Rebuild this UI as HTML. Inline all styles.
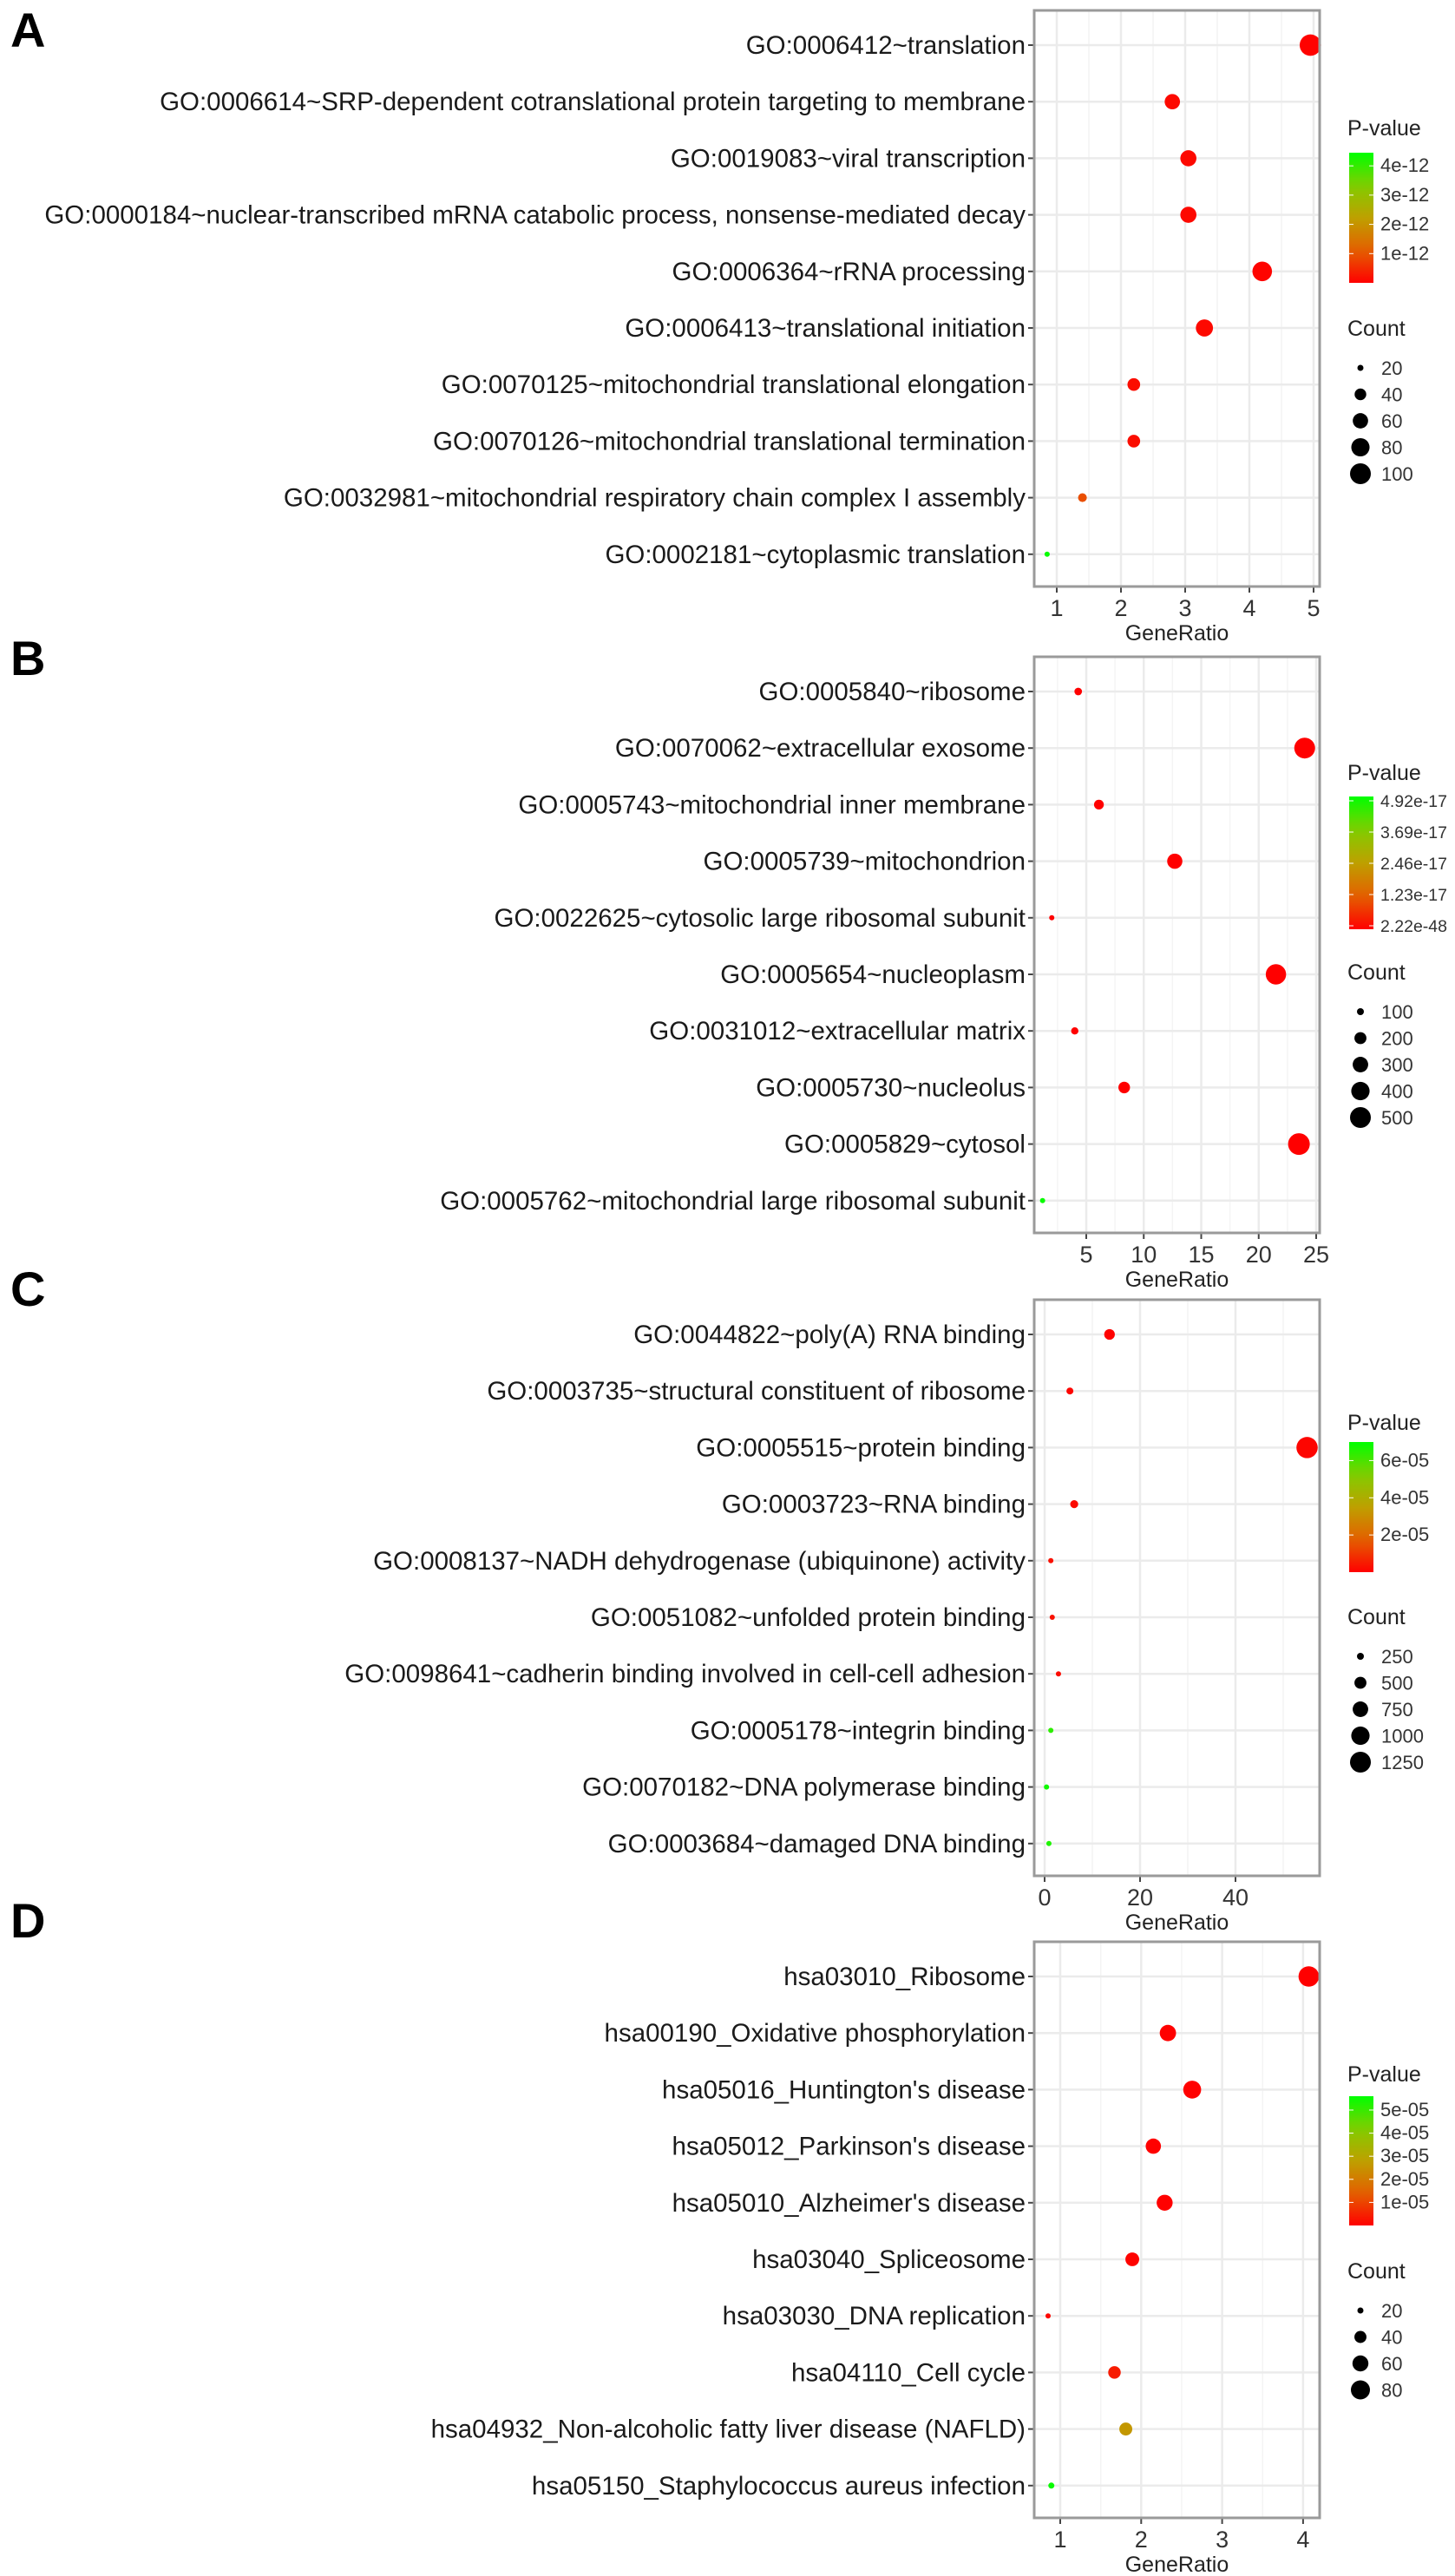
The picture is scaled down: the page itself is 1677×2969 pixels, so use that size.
<!DOCTYPE html>
<html><head><meta charset="utf-8">
<style>
html,body{margin:0;padding:0;background:#fff;}
svg{display:block;font-family:"Liberation Sans",Arial,sans-serif;}
</style></head>
<body>
<svg id="fig" width="1677" height="2969" viewBox="0 0 1677 2969" xmlns="http://www.w3.org/2000/svg"></svg>
<script>
// ---------- Panel A data ----------
const aTerms=["GO:0006412~translation","GO:0006614~SRP-dependent cotranslational protein targeting to membrane","GO:0019083~viral transcription","GO:0000184~nuclear-transcribed mRNA catabolic process, nonsense-mediated decay","GO:0006364~rRNA processing","GO:0006413~translational initiation","GO:0070125~mitochondrial translational elongation","GO:0070126~mitochondrial translational termination","GO:0032981~mitochondrial respiratory chain complex I assembly","GO:0002181~cytoplasmic translation"];
const aRatio=[4.95,2.8,3.05,3.05,4.2,3.3,2.2,2.2,1.4,0.85];
const aCount=[105,60,65,65,90,72,45,45,28,16];
const aPval=[0.02e-12,0.1e-12,0.1e-12,0.1e-12,0.05e-12,0.1e-12,0.15e-12,0.15e-12,0.9e-12,4.4e-12];
const aXTicks=[1,2,3,4,5];
const aPTicks=[4e-12,3e-12,2e-12,1e-12];
const aPTickLabels=["4e-12","3e-12","2e-12","1e-12"];
const aCountTicks=[20,40,60,80,100];
// ---------- Panel B data ----------
const bTerms=["GO:0005840~ribosome","GO:0070062~extracellular exosome","GO:0005743~mitochondrial inner membrane","GO:0005739~mitochondrion","GO:0022625~cytosolic large ribosomal subunit","GO:0005654~nucleoplasm","GO:0031012~extracellular matrix","GO:0005730~nucleolus","GO:0005829~cytosol","GO:0005762~mitochondrial large ribosomal subunit"];
const bRatio=[4.3,24,6.1,12.7,2.0,21.5,4.0,8.3,23.5,1.2];
const bCount=[110,500,150,290,60,480,105,190,540,40];
const bPval=[1e-20,1e-40,1e-25,1e-30,1e-20,1e-35,1e-19,1e-22,1e-45,4.92e-17];
const bXTicks=[5,10,15,20,25];
const bPTicks=[4.92e-17,3.69e-17,2.46e-17,1.23e-17,2.22e-48];
const bPTickLabels=["4.92e-17","3.69e-17","2.46e-17","1.23e-17","2.22e-48"];
const bCountTicks=[100,200,300,400,500];
// ---------- Panel C data ----------
const cTerms=["GO:0044822~poly(A) RNA binding","GO:0003735~structural constituent of ribosome","GO:0005515~protein binding","GO:0003723~RNA binding","GO:0008137~NADH dehydrogenase (ubiquinone) activity","GO:0051082~unfolded protein binding","GO:0098641~cadherin binding involved in cell-cell adhesion","GO:0005178~integrin binding","GO:0070182~DNA polymerase binding","GO:0003684~damaged DNA binding"];
const cRatio=[13.6,5.3,55,6.2,1.3,1.6,2.9,1.3,0.4,0.9];
const cCount=[420,250,1300,290,120,130,180,120,60,100];
const cPval=[1e-7,1e-6,1e-6,2e-6,3e-6,3e-6,2e-6,6.4e-5,6.8e-5,6.6e-5];
const cXTicks=[0,20,40];
const cPTicks=[6e-5,4e-5,2e-5];
const cPTickLabels=["6e-05","4e-05","2e-05"];
const cCountTicks=[250,500,750,1000,1250];
// ---------- Panel D data ----------
const dTerms=["hsa03010_Ribosome","hsa00190_Oxidative phosphorylation","hsa05016_Huntington's disease","hsa05012_Parkinson's disease","hsa05010_Alzheimer's disease","hsa03040_Spliceosome","hsa03030_DNA replication","hsa04110_Cell cycle","hsa04932_Non-alcoholic fatty liver disease (NAFLD)","hsa05150_Staphylococcus aureus infection"];
const dRatio=[4.07,2.33,2.63,2.15,2.29,1.89,0.85,1.67,1.81,0.89];
const dCount=[90,62,72,56,60,48,14,42,44,20];
const dPval=[1e-9,1e-7,1e-7,1e-7,1e-7,5e-7,1e-6,4e-6,2.6e-5,5.5e-5];
const dXTicks=[1,2,3,4];
const dPTicks=[5e-5,4e-5,3e-5,2e-5,1e-5];
const dPTickLabels=["5e-05","4e-05","3e-05","2e-05","1e-05"];
const dCountTicks=[20,40,60,80];

const NS="http://www.w3.org/2000/svg";
const svg=document.getElementById('fig');
function mk(tag,attrs,parent){const e=document.createElementNS(NS,tag);for(const k in attrs)e.setAttribute(k,attrs[k]);(parent||svg).appendChild(e);return e;}
function txt(s,attrs,parent){const e=mk('text',attrs,parent);e.textContent=s;return e;}

const stops=[[0,[255,0,0]],[0.25,[228,96,0]],[0.5,[190,160,0]],[0.75,[130,205,0]],[1,[0,255,0]]];
function gcol(t){t=Math.max(0,Math.min(1,t));for(let i=1;i<stops.length;i++){if(t<=stops[i][0]){const a=stops[i-1],b=stops[i];const f=(t-a[0])/(b[0]-a[0]);const c=a[1].map((v,j)=>Math.round(v+(b[1][j]-v)*f));return `rgb(${c[0]},${c[1]},${c[2]})`;}}return 'rgb(0,255,0)';}

let gradId=0;
function panel(cfg){
  const g=mk('g',{});
  
  
  const L=1192,R=1521,T=cfg.top,B=cfg.top+664;
  const xs=v=>cfg.x0px+(v-cfg.x0)*cfg.xk;
  const ys=i=>T+40+i*65.2;
  const lt=txt(cfg.letter,{x:12,y:cfg.letterY,'font-size':56,'font-weight':'bold',fill:'#000'},g);
  
  
  const bg=mk('rect',{x:L,y:T,width:R-L,height:B-T,fill:'#fff'},g);
  
  
  for(let i=0;i<cfg.xTicks.length+1;i++){
    const step=cfg.xTicks[1]-cfg.xTicks[0];
    const v=cfg.xTicks[0]-step/2+i*step;const x=xs(v);
    if(x>L&&x<R){const m=mk('line',{x1:x,x2:x,y1:T,y2:B,stroke:'#f4f4f4','stroke-width':1.5},g);
    
    }
  }
  cfg.xTicks.forEach(v=>{const x=xs(v);
    const gl=mk('line',{x1:x,x2:x,y1:T,y2:B,stroke:'#ebebeb','stroke-width':2.5},g);
    
    
    const tk=mk('line',{x1:x,x2:x,y1:B,y2:B+7,stroke:'#444','stroke-width':2},g);
    
    
    const tl=txt(String(v),{x:x,y:B+34,'font-size':27,'text-anchor':'middle',fill:'#333'},g);
    
    
  });
  cfg.terms.forEach((t,i)=>{const y=ys(i);
    const gl=mk('line',{x1:L,x2:R,y1:y,y2:y,stroke:'#ebebeb','stroke-width':2.5},g);
    
    
    const tk=mk('line',{x1:L-7,x2:L,y1:y,y2:y,stroke:'#444','stroke-width':2},g);
    
    
    const tl=txt(t,{x:L-10,y:y+10,'font-size':29.5,'text-anchor':'end',fill:'#1a1a1a'},g);
    
    
  });
  const rad=c=>{const r2=cfg.r0*cfg.r0+(cfg.r1*cfg.r1-cfg.r0*cfg.r0)*(c-cfg.c0)/(cfg.c1-cfg.c0);return Math.max(3,Math.sqrt(Math.max(9,r2)));};
  cfg.terms.forEach((t,i)=>{
    const c=mk('circle',{cx:xs(cfg.ratio[i]),cy:ys(i),r:rad(cfg.count[i]),fill:gcol(cfg.pval[i]/cfg.pmax)},g);
    
    
  });
  const bd=mk('rect',{x:L,y:T,width:R-L,height:B-T,fill:'none',stroke:'#9a9a9a','stroke-width':3},g);
  
  
  const xt=txt('GeneRatio',{x:(L+R)/2,y:B+62,'font-size':25,'text-anchor':'middle',fill:'#222'},g);
  
  
  const id='grad'+(gradId++);
  const defs=mk('defs',{},g);
  const lg=mk('linearGradient',{id:id,x1:0,y1:1,x2:0,y2:0},defs);
  for(let i=0;i<=10;i++){mk('stop',{offset:i/10,'stop-color':gcol(i/10)},lg);}
  const lx=1555,lw=28;
  const pt=txt('P-value',{x:1553,y:cfg.ptitleY,'font-size':25,fill:'#222'},g);
  
  
  const bar=mk('rect',{x:lx,y:cfg.barTop,width:lw,height:cfg.barBot-cfg.barTop,fill:`url(#${id})`},g);
  
  
  const py=v=>cfg.barBot-(v/cfg.pmax)*(cfg.barBot-cfg.barTop);
  cfg.pTicks.forEach((v,i)=>{const y=cfg.pTickY?cfg.pTickY(i):py(v);
    mk('line',{x1:lx,x2:lx+5,y1:y,y2:y,stroke:'#fff','stroke-width':1},g);
    mk('line',{x1:lx+lw-5,x2:lx+lw,y1:y,y2:y,stroke:'#fff','stroke-width':1},g);
    const tl=txt(cfg.pLabels[i],{x:1591,y:y+7,'font-size':cfg.pFont||22,fill:'#333'},g);
    
    
  });
  const ct=txt('Count',{x:1553,y:cfg.ctitleY,'font-size':25,fill:'#222'},g);
  
  
  cfg.countTicks.forEach((v,i)=>{const y=cfg.ctitleY+37+i*30.5;
    const c=mk('circle',{cx:1568,cy:y,r:rad(v),fill:'#000'},g);
    
    
    const tl=txt(String(v),{x:1592,y:y+8,'font-size':22,fill:'#333'},g);
    
    
  });
}

panel({letter:'A',letterY:54,top:12,terms:aTerms,ratio:aRatio,count:aCount,pval:aPval,xTicks:aXTicks,
  x0:1,x0px:1218,xk:74,r0:3.5,r1:12,c0:20,c1:100,pmax:4.45e-12,
  ptitleY:156,barTop:176,barBot:326,pTicks:aPTicks,pLabels:aPTickLabels,ctitleY:387,countTicks:aCountTicks});
panel({letter:'B',letterY:778,top:757,terms:bTerms,ratio:bRatio,count:bCount,pval:bPval,xTicks:bXTicks,
  x0:5,x0px:1252,xk:13.25,r0:4,r1:12,c0:100,c1:500,pmax:5.0e-17,pFont:19.5,
  ptitleY:899,barTop:918,barBot:1071,pTicks:bPTicks,pLabels:bPTickLabels,pTickY:i=>923+i*36,ctitleY:1129,countTicks:bCountTicks});
panel({letter:'C',letterY:1505,top:1498,terms:cTerms,ratio:cRatio,count:cCount,pval:cPval,xTicks:cXTicks,
  x0:0,x0px:1204,xk:5.5,r0:4,r1:12,c0:250,c1:1250,pmax:7.0e-5,
  ptitleY:1648,barTop:1662,barBot:1812,pTicks:cPTicks,pLabels:cPTickLabels,ctitleY:1872,countTicks:cCountTicks});
panel({letter:'D',letterY:2233,top:2238,terms:dTerms,ratio:dRatio,count:dCount,pval:dPval,xTicks:dXTicks,
  x0:1,x0px:1222,xk:93.3,r0:3.5,r1:11,c0:20,c1:80,pmax:5.6e-5,
  ptitleY:2399,barTop:2416,barBot:2565,pTicks:dPTicks,pLabels:dPTickLabels,ctitleY:2626,countTicks:dCountTicks});
</script>
</body></html>
